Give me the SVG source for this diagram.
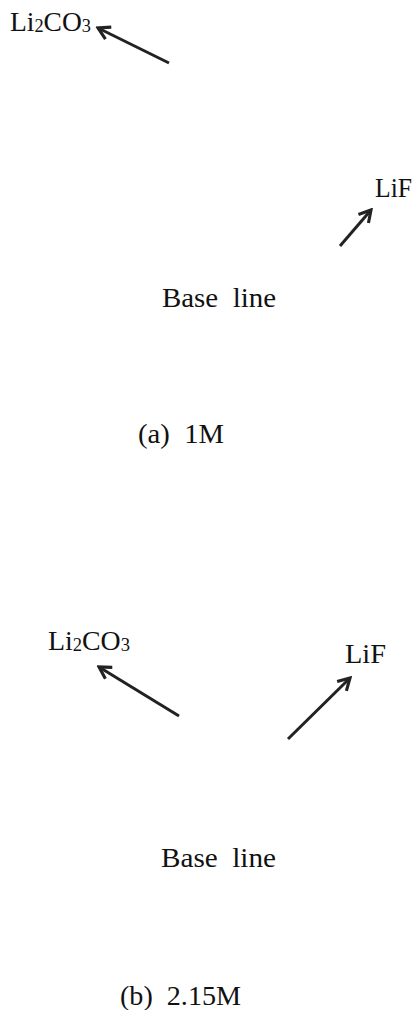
<svg xmlns="http://www.w3.org/2000/svg" width="419" height="1010" viewBox="0 0 419 1010">
  <style>
    text { font-family: "Liberation Serif", "Times New Roman", serif; fill: #111; }
    .lbl { font-size: 27px; }
    .sub { font-size: 18px; }
    .arrow { stroke: #222; stroke-width: 3; fill: none; marker-end: url(#head); }
  </style>
  <defs>
    <marker id="head" viewBox="0 0 10 10" refX="8.5" refY="5" markerWidth="5.5" markerHeight="5.5" markerUnits="strokeWidth" orient="auto">
      <path d="M1.5,1 L8.5,5 L1.5,9" fill="none" stroke="#222" stroke-width="1.9" stroke-linejoin="miter"/>
    </marker>
  </defs>

  <!-- panel (a): 1M -->
  <g id="a-li2co3"><text class="lbl" x="10" y="31" textLength="81" lengthAdjust="spacingAndGlyphs">Li<tspan class="sub" dy="1">2</tspan><tspan dy="-1">CO</tspan><tspan class="sub" dy="1">3</tspan></text></g>
  <g id="a-lif"><text class="lbl" x="375" y="197" textLength="37" lengthAdjust="spacingAndGlyphs">LiF</text></g>
  <g id="a-base"><text class="lbl" x="162" y="307" textLength="114" lengthAdjust="spacingAndGlyphs" xml:space="preserve">Base  line</text></g>
  <g id="a-caption"><text class="lbl" x="138" y="443" textLength="86" lengthAdjust="spacingAndGlyphs" xml:space="preserve">(a)  1M</text></g>

  <!-- panel (b): 2.15M -->
  <g id="b-li2co3"><text class="lbl" x="48" y="650" textLength="82" lengthAdjust="spacingAndGlyphs">Li<tspan class="sub" dy="1">2</tspan><tspan dy="-1">CO</tspan><tspan class="sub" dy="1">3</tspan></text></g>
  <g id="b-lif"><text class="lbl" x="345" y="663" textLength="41" lengthAdjust="spacingAndGlyphs">LiF</text></g>
  <g id="b-base"><text class="lbl" x="161" y="867" textLength="115" lengthAdjust="spacingAndGlyphs" xml:space="preserve">Base  line</text></g>
  <g id="b-caption"><text class="lbl" x="120" y="1005" textLength="121" lengthAdjust="spacingAndGlyphs" xml:space="preserve">(b)  2.15M</text></g>

  <!-- peak markers -->
  <g id="connectors">
    <line class="arrow" x1="169" y1="63" x2="98" y2="28"/>
    <line class="arrow" x1="340" y1="246" x2="371" y2="210"/>
    <line class="arrow" x1="179" y1="716" x2="99" y2="667"/>
    <line class="arrow" x1="288" y1="739" x2="350" y2="678"/>
  </g>
</svg>
